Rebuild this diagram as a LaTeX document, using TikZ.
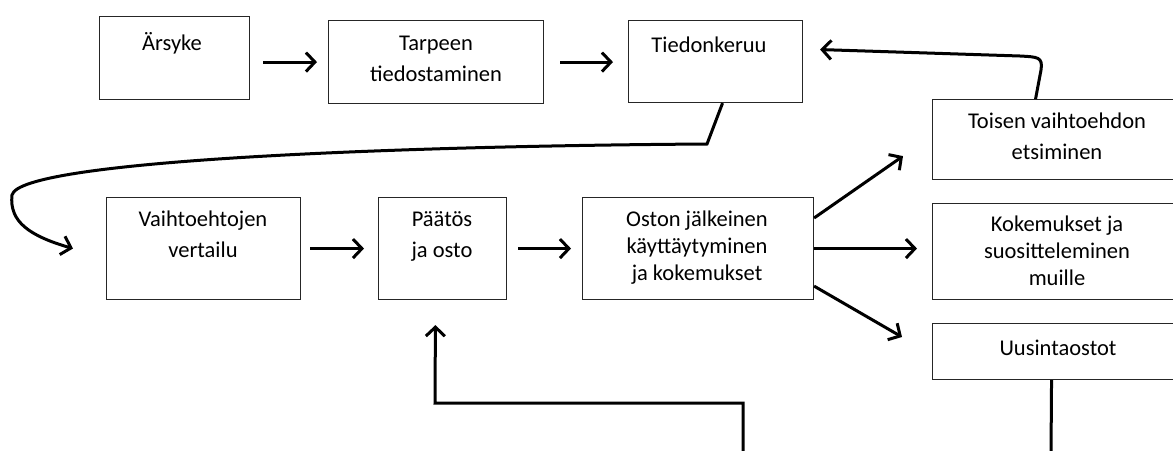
\documentclass[tikz,border=0pt]{standalone}
\usepackage{fontspec}
\setmainfont{Carlito}
\usetikzlibrary{arrows.meta,calc}
\begin{document}
\begin{tikzpicture}[x=1pt,y=-1pt,
  box/.style={draw=black!85, line width=1.1pt, inner sep=0pt, anchor=north west},
  txt/.style={anchor=base, align=center, inner sep=0pt, font=\fontsize{22.5}{31}\selectfont},
  txtb/.style={txt, font=\fontsize{22.5}{27}\selectfont},
  conn/.style={line width=3pt, line join=miter},
  arr/.style={conn, -{Straight Barb[length=9pt,width=19pt]}}]
\useasboundingbox (0,0) rectangle (1173,450);
\fill[white] (0,0) rectangle (1173,450);
\clip (0,0) rectangle (1173,450);
% boxes
\node[box, minimum width=150pt, minimum height=83pt] (ars) at (99,16) {};
\node[box, minimum width=215pt, minimum height=83pt] (tar) at (328,20) {};
\node[box, minimum width=174pt, minimum height=82pt] (tied) at (628,20) {};
\node[box, minimum width=268pt, minimum height=80pt] (toi) at (932,99) {};
\node[box, minimum width=268pt, minimum height=96pt] (koke) at (932,203) {};
\node[box, minimum width=268pt, minimum height=56pt] (uusi) at (932,323) {};
\node[box, minimum width=194pt, minimum height=102pt] (vt) at (106,197) {};
\node[box, minimum width=128pt, minimum height=102pt] (pa) at (378,197) {};
\node[box, minimum width=231pt, minimum height=102pt] (os) at (582,197) {};
% texts (anchor base = baseline of the last line)
\node[txt] (tars) at (172,50.5) {Ärsyke};
\node[txt] (ttar) at (436,81.5) {Tarpeen\\tiedostaminen};
\node[txt] (ttied) at (709,52.5) {Tiedonkeruu};
\node[txt] (ttoi) at (1057,159.5) {Toisen vaihtoehdon\\etsiminen};
\node[txtb] (tkoke) at (1057,285.5) {Kokemukset ja\\suositteleminen\\muille};
\node[txt] (tuusi) at (1058,355.5) {Uusintaostot};
\node[txt] (tvt) at (203,257.5) {Vaihtoehtojen\\vertailu};
\node[txt] (tpa) at (442,257.5) {Päätös\\ja osto};
\node[txtb] (tos) at (697,280) {Oston jälkeinen\\käyttäytyminen\\ja kokemukset};
% helper coordinates
\coordinate (vtin) at ([xshift=-33pt]vt.west);
\coordinate (c1) at (743,455);
\coordinate (c2) at (435,403);
\coordinate (ubot) at (1051,455);
% connectors
\draw[arr, shorten <=13pt, shorten >=11pt] (ars.east |- tar.west) -- (tar.west);
\draw[arr, shorten <=16pt, shorten >=15pt] (tar.east) -- (tar.east -| tied.west);
\draw[arr, shorten <=9pt, shorten >=14pt] (vt.east) -- (pa.west);
\draw[arr, shorten <=11pt, shorten >=11pt] (pa.east) -- (os.west);
\draw[arr, shorten >=15pt] (os.east) -- (os.east -| koke.west);
\draw[arr] ([yshift=-21pt]os.north east) -- ([xshift=-29pt,yshift=24pt]toi.south west);
\draw[arr] ([yshift=14pt]os.south east) -- ([xshift=-30pt,yshift=-14pt]uusi.north west);
\draw[arr, shorten >=25pt] (c1) |- (c2) -- ([xshift=-7pt]pa.south);
\draw[conn] ([xshift=-15pt]uusi.south) -- (ubot);
\draw[arr] ([xshift=7pt]tied.south) -- (707,144)
   .. controls (400,146) and (20,160) .. (12,195)
   .. controls (9,222) and (30,236) .. (vtin);
\draw[arr] ([xshift=-31pt]toi.north) -- (1041,70)
   .. controls (1043,57) and (1038,57) .. (1020,56)
   -- ([xshift=17pt,yshift=12pt]tied.east);
\end{tikzpicture}
\end{document}
